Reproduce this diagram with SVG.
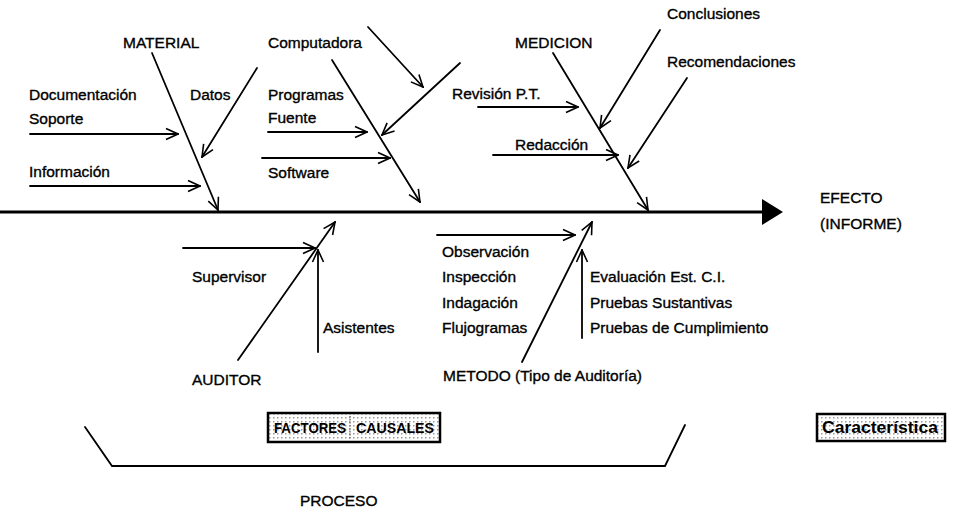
<svg xmlns="http://www.w3.org/2000/svg" width="953" height="521" viewBox="0 0 953 521">
<defs>
<style>
text{font-family:"Liberation Sans",Arial,sans-serif;font-size:15.5px;fill:#000;stroke:#000;stroke-width:0.35}
.c line,.c polyline{stroke:#000;stroke-width:1.8;fill:none;stroke-linecap:round}
.a{marker-end:url(#v)}
.bx{stroke:#000;stroke-width:2.5;fill:url(#dots)}
.bt{font-weight:bold;font-size:14px;stroke-width:0}
</style>
<marker id="v" viewBox="0 0 14 14" refX="13" refY="7" markerWidth="14" markerHeight="14" markerUnits="userSpaceOnUse" orient="auto">
<path d="M1,1.5 L13,7 L1,12.5" fill="none" stroke="#000" stroke-width="1.6"/>
</marker>
<pattern id="dots" width="4" height="4" patternUnits="userSpaceOnUse">
<rect width="4" height="4" fill="#fff"/>
<rect x="1" y="1" width="1.5" height="1.5" fill="#999"/>
</pattern>
</defs>
<rect width="953" height="521" fill="#fff"/>
<g class="c" id="connectors">
<line x1="0" y1="212" x2="764" y2="212" style="stroke-width:2.8"/>
<polygon points="762,199 783,212 762,225" fill="#000"/>
<line class="a" x1="152" y1="53" x2="218" y2="210"/>
<line class="a" x1="257" y1="68" x2="202" y2="157"/>
<line class="a" x1="30" y1="134" x2="178" y2="134"/>
<line class="a" x1="30" y1="186" x2="200" y2="186"/>
<line class="a" x1="332" y1="60" x2="420" y2="202"/>
<line class="a" x1="368" y1="27" x2="423" y2="87"/>
<line class="a" x1="460" y1="63" x2="382" y2="135"/>
<line class="a" x1="268" y1="132" x2="367" y2="132"/>
<line class="a" x1="262" y1="158" x2="390" y2="158"/>
<line class="a" x1="553" y1="53" x2="648" y2="210"/>
<line class="a" x1="660" y1="30" x2="600" y2="128"/>
<line class="a" x1="687" y1="78" x2="628" y2="168"/>
<line class="a" x1="478" y1="107" x2="578" y2="107"/>
<line class="a" x1="493" y1="155" x2="618" y2="155"/>
<line class="a" x1="183" y1="248" x2="315" y2="248"/>
<line class="a" x1="238" y1="360" x2="335" y2="222"/>
<line class="a" x1="318" y1="352" x2="318" y2="250"/>
<line class="a" x1="437" y1="235" x2="575" y2="235"/>
<line class="a" x1="522" y1="362" x2="592" y2="222"/>
<line class="a" x1="582" y1="338" x2="582" y2="250"/>
<polyline points="85,427 112,466 665,466 685,425"/>
</g>
<g id="material"><text x="123" y="48">MATERIAL</text></g>
<g id="computadora"><text x="268" y="48">Computadora</text></g>
<g id="medicion"><text x="515" y="48">MEDICION</text></g>
<g id="conclusiones"><text x="667" y="19">Conclusiones</text></g>
<g id="recomendaciones"><text x="667" y="67">Recomendaciones</text></g>
<g id="documentacion"><text x="29" y="100">Documentación</text><text x="29" y="124">Soporte</text></g>
<g id="datos"><text x="190" y="100">Datos</text></g>
<g id="programas"><text x="268" y="100">Programas</text><text x="268" y="123">Fuente</text></g>
<g id="revision"><text x="452" y="99">Revisión P.T.</text></g>
<g id="redaccion"><text x="515" y="150">Redacción</text></g>
<g id="informacion"><text x="29" y="177">Información</text></g>
<g id="software"><text x="268" y="178">Software</text></g>
<g id="efecto"><text x="820" y="203">EFECTO</text><text x="820" y="229">(INFORME)</text></g>
<g id="supervisor"><text x="192" y="282">Supervisor</text></g>
<g id="asistentes"><text x="323" y="333">Asistentes</text></g>
<g id="auditor"><text x="192" y="385">AUDITOR</text></g>
<g id="metodos"><text x="442" y="257">Observación</text><text x="442" y="282">Inspección</text><text x="442" y="308">Indagación</text><text x="442" y="333">Flujogramas</text></g>
<g id="pruebas"><text x="590" y="282">Evaluación Est. C.I.</text><text x="590" y="308">Pruebas Sustantivas</text><text x="590" y="333">Pruebas de Cumplimiento</text></g>
<g id="metodo"><text x="443" y="381">METODO (Tipo de Auditoría)</text></g>
<g id="factores"><rect class="bx" x="268" y="413" width="172" height="29"/><line x1="350" y1="416" x2="350" y2="439" stroke="#777" stroke-width="1.5" stroke-dasharray="1.5,1.5"/><text class="bt" x="274" y="433" textLength="72" lengthAdjust="spacingAndGlyphs">FACTORES</text><text class="bt" x="356" y="433" textLength="78" lengthAdjust="spacingAndGlyphs">CAUSALES</text></g>
<g id="caracteristica"><rect class="bx" x="817" y="414" width="128" height="27"/><text class="bt" x="822" y="433" textLength="116" lengthAdjust="spacingAndGlyphs" style="font-size:16px">Característica</text></g>
<g id="proceso"><text x="300" y="506">PROCESO</text></g>
</svg>
